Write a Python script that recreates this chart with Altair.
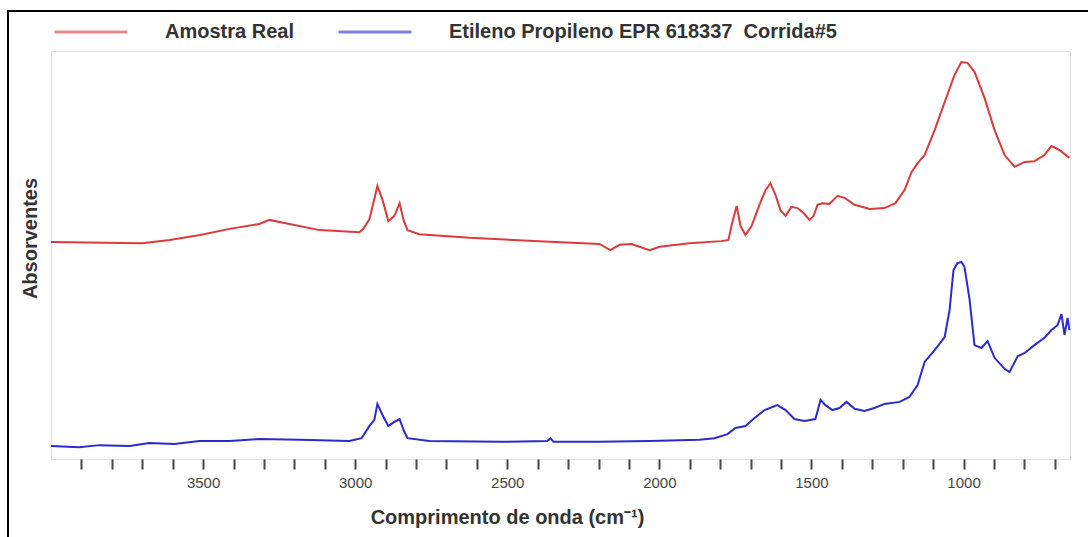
import altair as alt
import pandas as pd

# Wavenumber (cm-1) and absorbance (arbitrary units)
red_wn = [4000, 3700, 3610, 3510, 3413, 3315, 3282, 3216, 3117, 2986, 2973, 2953, 2927, 2910,
          2891, 2871, 2854, 2841, 2828, 2789, 2624, 2394, 2197, 2161, 2131, 2092, 2032, 1999,
          1901, 1796, 1773, 1760, 1746, 1733, 1717, 1697, 1671, 1651, 1635, 1618, 1602, 1585,
          1566, 1546, 1526, 1506, 1493, 1480, 1464, 1441, 1414, 1391, 1358, 1309, 1260, 1224,
          1194, 1171, 1151, 1128, 1095, 1062, 1030, 1007, 987, 964, 931, 898, 865, 832, 799,
          767, 734, 711, 684, 652]
red_abs = [0.532, 0.529, 0.537, 0.549, 0.564, 0.576, 0.586, 0.576, 0.561, 0.556, 0.564, 0.588,
           0.669, 0.635, 0.583, 0.596, 0.627, 0.586, 0.561, 0.551, 0.542, 0.534, 0.527, 0.512,
           0.525, 0.527, 0.512, 0.520, 0.529, 0.534, 0.537, 0.581, 0.620, 0.571, 0.549, 0.571,
           0.623, 0.659, 0.676, 0.647, 0.610, 0.596, 0.618, 0.615, 0.603, 0.586, 0.596, 0.623,
           0.627, 0.625, 0.645, 0.640, 0.623, 0.613, 0.615, 0.627, 0.659, 0.703, 0.725, 0.745,
           0.806, 0.875, 0.941, 0.973, 0.971, 0.949, 0.885, 0.806, 0.745, 0.716, 0.728, 0.730,
           0.745, 0.767, 0.757, 0.738]

blue_wn = [4000, 3907, 3841, 3742, 3676, 3594, 3512, 3413, 3315, 3183, 3019, 2979, 2953, 2937,
           2927, 2910, 2891, 2871, 2854, 2841, 2828, 2756, 2526, 2368, 2358, 2348, 2197, 2032,
           1868, 1819, 1776, 1750, 1717, 1688, 1654, 1612, 1585, 1556, 1523, 1487, 1470, 1454,
           1431, 1408, 1385, 1358, 1326, 1293, 1260, 1210, 1178, 1151, 1128, 1095, 1062, 1046,
           1033, 1020, 1007, 997, 980, 964, 941, 921, 898, 865, 849, 822, 799, 767, 734, 711,
           691, 678, 668, 658, 652]
blue_abs = [0.032, 0.029, 0.034, 0.032, 0.039, 0.037, 0.044, 0.044, 0.049, 0.047, 0.044, 0.051,
            0.081, 0.096, 0.135, 0.108, 0.081, 0.091, 0.098, 0.071, 0.051, 0.044, 0.042, 0.044,
            0.051, 0.042, 0.042, 0.044, 0.047, 0.051, 0.061, 0.076, 0.081, 0.100, 0.120, 0.132,
            0.120, 0.098, 0.093, 0.098, 0.145, 0.132, 0.120, 0.125, 0.140, 0.123, 0.118, 0.125,
            0.135, 0.140, 0.152, 0.181, 0.238, 0.267, 0.299, 0.365, 0.463, 0.480, 0.483, 0.471,
            0.390, 0.279, 0.272, 0.289, 0.248, 0.221, 0.213, 0.252, 0.260, 0.279, 0.297, 0.316,
            0.328, 0.355, 0.304, 0.346, 0.316]

series_names = ["Amostra Real", "Etileno Propileno EPR 618337\u00a0 Corrida#5"]
series_colors = ["#dc3a3a", "#2b2bcc"]
tick_values = list(range(3900, 699, -100))

df = pd.concat([
    pd.DataFrame({"wn": red_wn, "abs": red_abs, "serie": series_names[0]}),
    pd.DataFrame({"wn": blue_wn, "abs": blue_abs, "serie": series_names[1]}),
])

FONT = "Liberation Sans"

lines = alt.Chart(df).mark_line(strokeWidth=2).encode(
    x=alt.X("wn:Q",
            scale=alt.Scale(domain=[650, 4000], reverse=True, nice=False, zero=False),
            axis=alt.Axis(values=tick_values, format="d",
                          labelExpr="datum.value % 500 == 0 ? datum.label : ''",
                          title="Comprimento de onda (cm⁻¹)",
                          titleX=456, titleY=58, titleAlign="center", titleBaseline="middle",
                          titleFont=FONT, titleFontSize=20, titleFontWeight="bold", titleColor="#333",
                          labelFont=FONT, labelFontSize=15, labelColor="#444", labelPadding=6,
                          tickSize=10, tickWidth=2, tickColor="#444", tickOffset=0,
                          domain=False, grid=False)),
    y=alt.Y("abs:Q", scale=alt.Scale(domain=[0, 1], nice=False, zero=False),
            axis=alt.Axis(labels=False, ticks=False, domain=False, grid=False,
                          title="Absorventes", titleX=-21, titleY=187, titleAngle=-90,
                          titleAlign="center", titleBaseline="middle",
                          titleFont=FONT, titleFontSize=20, titleFontWeight="bold",
                          titleColor="#333")),
    color=alt.Color("serie:N",
                    scale=alt.Scale(domain=series_names, range=series_colors),
                    legend=alt.Legend(orient="none", legendX=2, legendY=-57, direction="horizontal",
                                      title=None, symbolType="stroke", symbolSize=5300,
                                      symbolStrokeWidth=3, symbolOpacity=0.6, labelLimit=0,
                                      labelFont=FONT, labelFontSize=20, labelFontWeight="bold",
                                      labelColor="#333", labelOffset=36, columnPadding=38)),
    order=alt.Order("wn:Q"),
)

frame = alt.Chart(df).mark_rect(filled=False, stroke="black", strokeWidth=2, clip=False).encode(
    x=alt.value(-43), x2=alt.value(1100), y=alt.value(-40), y2=alt.value(600)
).transform_filter("datum.wn == 4000 && datum.serie == 'Amostra Real'")

chart = alt.layer(frame, lines).properties(
    width=1019, height=408,
    padding={"left": 51, "top": 51, "right": 18, "bottom": 78},
    autosize=alt.AutoSizeParams(type="none"),
).configure_view(stroke="#6f6f6f", strokeWidth=2.5).configure(background="white")

chart.save("out.html", embed_options={"renderer": "svg", "actions": False})
